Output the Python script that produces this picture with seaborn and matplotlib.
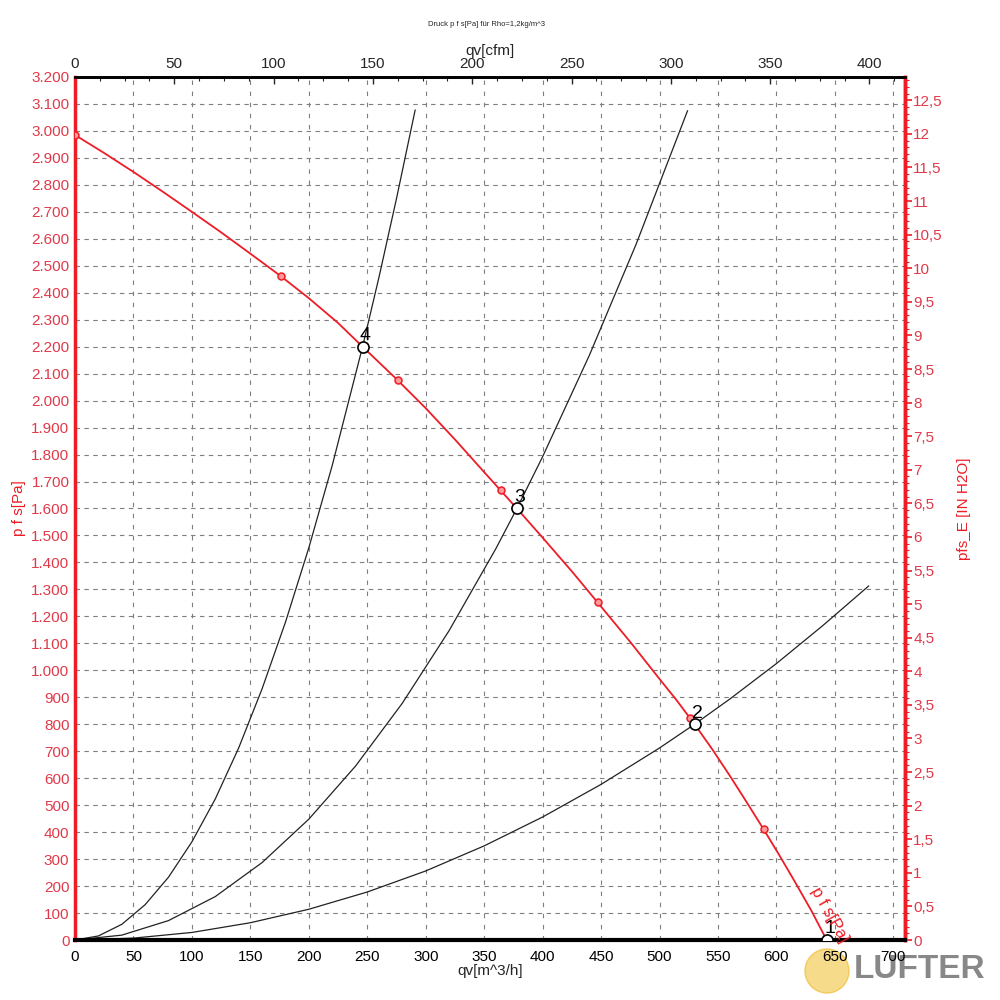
import numpy as np
import pandas as pd
import matplotlib
matplotlib.use("Agg")
import matplotlib.pyplot as plt
import matplotlib.ticker as mticker
from matplotlib.patches import Circle
import seaborn as sns

# fan curve p_fs over airflow
fan_q = [0, 25, 50, 75, 100, 125, 150, 175, 200, 225, 246, 275, 300, 325, 350, 378, 400,
         425, 447, 475, 500, 515, 530, 545, 560, 575, 589, 602, 615, 630, 643]
fan_p = [2985, 2918, 2848, 2775, 2700, 2624, 2545, 2465, 2380, 2288, 2200, 2080, 1972, 1856, 1735, 1600, 1492,
         1367, 1252, 1105, 968, 887, 800, 708, 610, 508, 411, 318, 222, 108, 0]

# small red markers on fan curve
mark_q = [0, 176, 276, 364, 447, 526, 589]
mark_p = [2985, 2462, 2076, 1668, 1252, 825, 411]

# system curves
sys4_q = [0, 20, 40, 60, 80, 100, 120, 140, 160, 180, 200, 220, 246, 260, 275, 291]
sys4_p = [0, 15, 58, 131, 233, 364, 523, 712, 931, 1178, 1454, 1759, 2200, 2457, 2749, 3078]
sys3_q = [0, 40, 80, 120, 160, 200, 240, 280, 320, 360, 378, 400, 440, 480, 524]
sys3_p = [0, 18, 72, 161, 287, 448, 645, 878, 1147, 1451, 1600, 1792, 2168, 2580, 3075]
sys2_q = [0, 50, 100, 150, 200, 250, 300, 350, 400, 450, 500, 530, 560, 600, 640, 679]
sys2_p = [0, 7, 28, 64, 114, 178, 256, 349, 456, 577, 712, 800, 893, 1025, 1167, 1313]

# operating points
op_labels = ["1", "2", "3", "4"]
op_q = [643, 530, 378, 246]
op_p = [0, 800, 1600, 2200]

RED = "#ee1c25"
LBL_RED = "#e03a4a"

sns.set_style("white")
plt.rcParams["font.family"] = ["Liberation Sans", "DejaVu Sans"]

fig = plt.figure(figsize=(10, 10), dpi=100)
ax = fig.add_axes([0.075, 0.06, 0.83, 0.863])

# grid
for xv in range(50, 701, 50):
    ax.axvline(xv, color="#7f7f7f", lw=0.8, ls=(0, (4, 6)), zorder=0)
for yv in range(100, 3200, 100):
    ax.axhline(yv, color="#7f7f7f", lw=0.8, ls=(0, (4, 4)), zorder=0)

for q, p in [(sys4_q, sys4_p), (sys3_q, sys3_p), (sys2_q, sys2_p)]:
    sns.lineplot(x=q, y=p, ax=ax, color="#222222", lw=0.9, sort=False, estimator=None)

sns.lineplot(x=fan_q, y=fan_p, ax=ax, color=RED, lw=1.3, sort=False, estimator=None)
ax.plot(mark_q, mark_p, "o", ms=5, mfc="#ff9a9a", mec=RED, mew=1.1, zorder=5)

ax.plot(op_q, op_p, "o", ms=8, mfc="white", mec="black", mew=1.2, zorder=6)
for lab, q, p in zip(op_labels, op_q, op_p):
    ax.annotate(lab, (q, p), xytext=(2, 8), textcoords="offset points",
                ha="center", va="center", fontsize=14, color="black", zorder=7)

ax.text(645, 95, "p f s[Pa]", color=RED, fontsize=12, rotation=-60.6,
        ha="center", va="center", zorder=7)

ax.set_xlim(0, 710)
ax.set_ylim(0, 3200)

ax.xaxis.set_major_locator(mticker.MultipleLocator(50))
ax.xaxis.set_minor_locator(mticker.MultipleLocator(10))
ax.yaxis.set_major_locator(mticker.MultipleLocator(100))
ax.yaxis.set_minor_locator(mticker.MultipleLocator(20))
ax.yaxis.set_major_formatter(mticker.FuncFormatter(lambda v, _: f"{int(round(v)):,}".replace(",", ".")))
ax.tick_params(axis="x", which="major", direction="out", length=5, width=1, labelsize=11, pad=2, colors="black")
ax.tick_params(axis="x", which="minor", direction="out", length=2.5, width=0.8)
ax.tick_params(axis="y", which="major", direction="inout", length=6, width=1.2, labelsize=11,
               pad=1, color=RED, labelcolor=LBL_RED)
ax.tick_params(axis="y", which="minor", direction="in", length=3, width=0.8, color=RED)
ax.set_xlabel("qv[m^3/h]", fontsize=11, labelpad=0)
ax.set_ylabel("p f s[Pa]", fontsize=11, color=RED, labelpad=4)

for side, col, lw in [("left", RED, 2.5), ("right", RED, 2.5), ("top", "black", 2.0), ("bottom", "black", 3.0)]:
    ax.spines[side].set_visible(True)
    ax.spines[side].set_color(col)
    ax.spines[side].set_linewidth(lw)

# top axis in cfm
top = ax.secondary_xaxis("top", functions=(lambda q: q / 1.699, lambda c: c * 1.699))
top.xaxis.set_major_locator(mticker.MultipleLocator(50))
top.xaxis.set_minor_locator(mticker.MultipleLocator(12.5))
top.tick_params(which="major", direction="in", length=5, width=1, labelsize=11, pad=4)
top.tick_params(which="minor", direction="in", length=3, width=0.8)
top.set_xlabel("qv[cfm]", fontsize=11, labelpad=2)
top.spines["top"].set_linewidth(2.0)

# right axis in inch H2O
right = ax.secondary_yaxis("right", functions=(lambda p: p / 249.09, lambda w: w * 249.09))
right.yaxis.set_major_locator(mticker.MultipleLocator(0.5))
right.yaxis.set_minor_locator(mticker.MultipleLocator(0.1))
right.yaxis.set_major_formatter(mticker.FuncFormatter(lambda v, _: f"{v:g}".replace(".", ",")))
right.tick_params(which="major", direction="out", length=5, width=1.2, labelsize=11, pad=1,
                  color=RED, labelcolor=LBL_RED)
right.tick_params(which="minor", direction="out", length=3, width=0.8, color=RED)
right.set_ylabel("pfs_E [IN H2O]", fontsize=11, color=RED, labelpad=10)
right.spines["right"].set_color(RED)
right.spines["right"].set_linewidth(2.5)

fig.text(0.487, 0.976, "Druck p f s[Pa] für Rho=1,2kg/m^3", fontsize=5.5, ha="center", va="center")

# watermark
fig.patches.append(Circle((0.827, 0.029), 0.022, transform=fig.transFigure,
                          facecolor="#f3cf63", edgecolor="#f0c040", alpha=0.75, zorder=-1))
fig.text(0.92, 0.031, "LUFTER", fontsize=24, fontweight="bold", color="#7b7b7b",
         ha="center", va="center", alpha=0.9, zorder=-1)

fig.savefig("out.png", dpi=100)
